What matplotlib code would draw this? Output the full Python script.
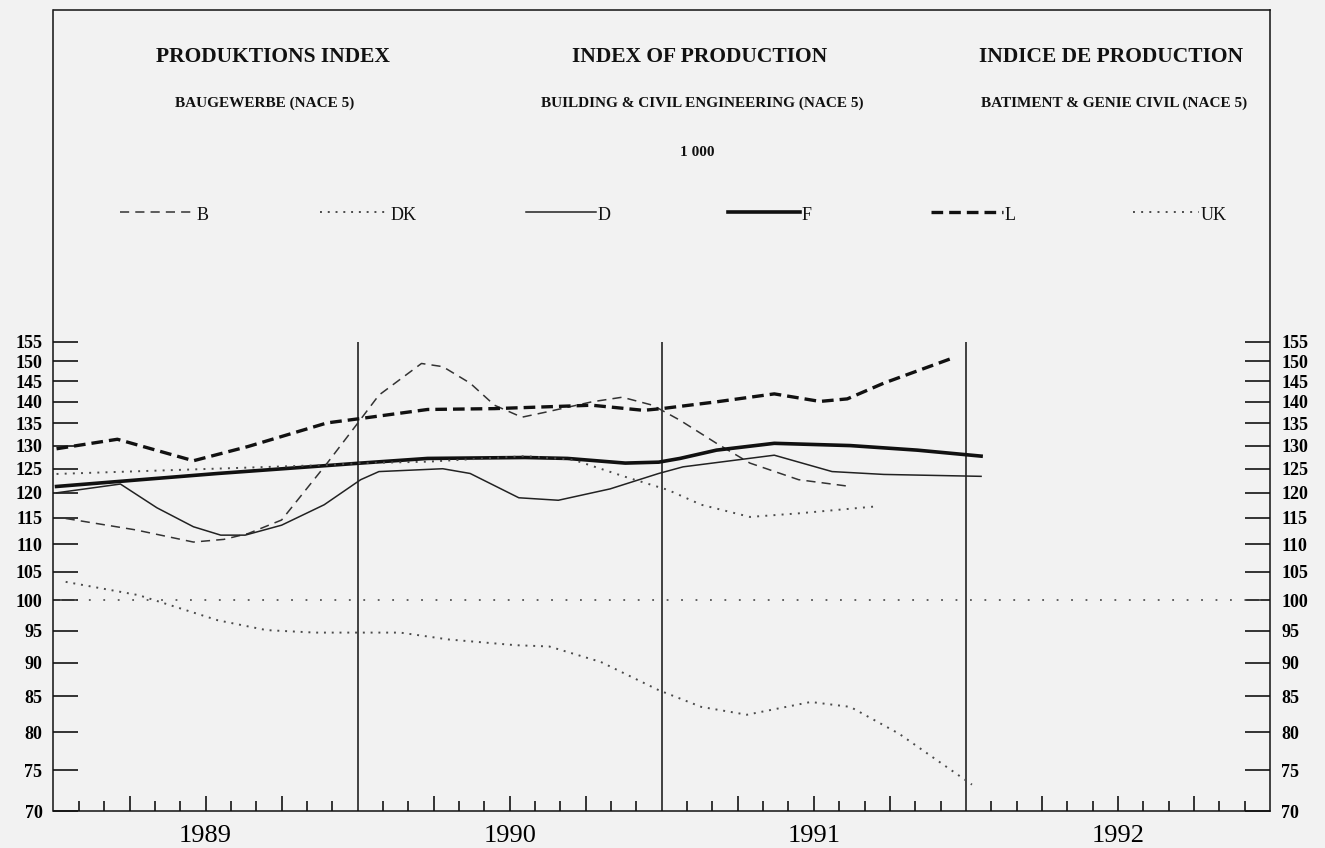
import matplotlib.pyplot as plt
from matplotlib.lines import Line2D
from matplotlib.ticker import FixedLocator, NullLocator, FixedFormatter

# Index of production, building & civil engineering (NACE 5), 1985 = 100
# x values are decimal years
b_x = [1989.04, 1989.27, 1989.46, 1989.56, 1989.64, 1989.75, 1989.90, 1990.00, 1990.07,
       1990.21, 1990.28, 1990.37, 1990.45, 1990.54, 1990.62, 1990.77, 1990.87, 1990.97,
       1991.06, 1991.18, 1991.29, 1991.45, 1991.62]
b_y = [114.9, 112.7, 110.4, 110.9, 112.0, 114.6, 126.2, 135.0, 141.6,
       149.4, 148.6, 144.5, 139.2, 136.4, 137.6, 140.0, 141.1, 139.2,
       135.7, 130.5, 126.2, 122.7, 121.3]

dk_x = [1989.04, 1989.28, 1989.54, 1989.70, 1989.86, 1990.01, 1990.14, 1990.30, 1990.52,
        1990.63, 1990.80, 1990.99, 1991.13, 1991.28, 1991.49, 1991.62, 1991.78, 1991.89,
        1992.02]
dk_y = [103.2, 100.9, 96.7, 95.1, 94.7, 94.7, 94.7, 93.6, 92.7,
        92.5, 90.1, 85.9, 83.5, 82.4, 84.2, 83.5, 79.8, 76.7,
        73.2]

d_x = [1989.01, 1989.22, 1989.34, 1989.46, 1989.55, 1989.63, 1989.75, 1989.89, 1990.01,
       1990.07, 1990.28, 1990.37, 1990.53, 1990.66, 1990.83, 1990.99, 1991.07, 1991.37,
       1991.56, 1991.73, 1992.05]
d_y = [120.0, 121.8, 117.0, 113.3, 111.7, 111.7, 113.6, 117.6, 122.7,
       124.4, 125.0, 124.0, 119.0, 118.5, 120.8, 124.0, 125.4, 127.9,
       124.4, 123.8, 123.4]

f_x = [1989.01, 1989.54, 1990.01, 1990.23, 1990.55, 1990.69, 1990.88, 1990.99, 1991.06,
       1991.18, 1991.37, 1991.62, 1991.84, 1992.05]
f_y = [121.3, 124.0, 126.2, 127.2, 127.4, 127.2, 126.2, 126.4, 127.2,
       129.0, 130.5, 130.0, 129.0, 127.7]

l_x = [1989.01, 1989.21, 1989.46, 1989.64, 1989.90, 1990.01, 1990.23, 1990.45, 1990.77,
       1990.94, 1991.00, 1991.18, 1991.37, 1991.52, 1991.61, 1991.73, 1991.95]
l_y = [129.3, 131.4, 126.7, 129.8, 135.1, 136.1, 138.2, 138.4, 139.2,
       138.0, 138.4, 140.0, 141.9, 140.1, 140.7, 144.5, 150.6]

uk_x = [1989.01, 1989.90, 1990.01, 1990.23, 1990.55, 1990.71, 1990.88, 1991.02, 1991.13,
        1991.29, 1991.45, 1991.71]
uk_y = [123.9, 125.8, 126.2, 126.5, 127.7, 126.9, 123.3, 120.6, 117.6,
        115.2, 115.9, 117.3]

countries = ["B", "DK", "D", "F", "L", "UK"]
years = [1989, 1990, 1991, 1992]
y_ticks = list(range(70, 160, 5))

series = {"B": (b_x, b_y), "DK": (dk_x, dk_y), "D": (d_x, d_y),
          "F": (f_x, f_y), "L": (l_x, l_y), "UK": (uk_x, uk_y)}

styles = {
    "B": dict(color="#333333", linewidth=1.1, linestyle=(0, (6, 4))),
    "DK": dict(color="#4a4a4a", linewidth=1.4, linestyle=(0, (1, 3.0))),
    "D": dict(color="#222222", linewidth=1.1, linestyle="-"),
    "F": dict(color="#111111", linewidth=2.6, linestyle="-"),
    "L": dict(color="#111111", linewidth=2.4, linestyle=(0, (3.5, 1.8))),
    "UK": dict(color="#4a4a4a", linewidth=1.4, linestyle=(0, (1, 3.2))),
}

W, H = 1325, 848
bg = "#f2f2f2"
serif = "Liberation Serif"


def fx(px):
    return px / W


def fy(py):
    return 1 - py / H


fig = plt.figure(figsize=(W / 100, H / 100), dpi=100, facecolor=bg)
ax = fig.add_axes([fx(53.5), fy(811), fx(1270) - fx(53.5), fy(10) - fy(811)])
ax.set_facecolor(bg)

ax.set_yscale("log")
ax.set_xlim(1989, 1993)
ax.set_ylim(70, 271.9)

# reference line at 100 and the year separators
ax.axhline(100, xmin=0.005, xmax=0.993, color="#555555", linewidth=1.3,
           linestyle=(0, (1, 7)))
ax.vlines(years[1:], 70, 155, color="#111111", linewidth=1.1)

for c in countries:
    xs, ys = series[c]
    ax.plot(xs, ys, **styles[c])

# y axis, labelled on both sides
ax.yaxis.set_major_locator(FixedLocator(y_ticks))
ax.yaxis.set_major_formatter(FixedFormatter([str(v) for v in y_ticks]))
ax.yaxis.set_minor_locator(NullLocator())
ax.tick_params(axis="y", which="major", direction="in", length=18, width=1.1,
               left=True, right=True, labelleft=True, labelright=True, pad=8)
for lab in ax.get_yticklabels():
    lab.set_fontfamily(serif)
    lab.set_fontweight("bold")
    lab.set_fontsize(13)

# x axis: monthly ticks, longer at quarters, year label mid-year
quarters = [y + q for y in years for q in (0.25, 0.5, 0.75)]
months = [y + m / 12 for y in years for m in range(1, 12) if m % 3 != 0]
ax.xaxis.set_major_locator(FixedLocator(quarters))
ax.xaxis.set_major_formatter(FixedFormatter(
    [str(int(q)) if abs(q - int(q) - 0.5) < 1e-6 else "" for q in quarters]))
ax.xaxis.set_minor_locator(FixedLocator(months))
ax.tick_params(axis="x", which="major", direction="in", length=11, width=1.1,
               top=False, pad=10)
ax.tick_params(axis="x", which="minor", direction="in", length=7, width=1.1,
               top=False)
for lab in ax.get_xticklabels():
    lab.set_fontfamily(serif)
    lab.set_fontsize(19)

for s in ax.spines.values():
    s.set_linewidth(1.1)
    s.set_color("#111111")

# headings
head_kw = dict(ha="center", va="center", family=serif, color="#111111")
fig.text(fx(273), fy(57), "PRODUKTIONS INDEX", fontsize=15.5, fontweight="bold", **head_kw)
fig.text(fx(700), fy(57), "INDEX OF PRODUCTION", fontsize=15.5, fontweight="bold", **head_kw)
fig.text(fx(1111), fy(57), "INDICE DE PRODUCTION", fontsize=15.5, fontweight="bold", **head_kw)
sub_kw = dict(fontsize=11, fontweight="bold", **head_kw)
fig.text(fx(265), fy(103), "BAUGEWERBE (NACE 5)", **sub_kw)
fig.text(fx(702), fy(103), "BUILDING & CIVIL ENGINEERING (NACE 5)", **sub_kw)
fig.text(fx(1114), fy(103), "BATIMENT & GENIE CIVIL (NACE 5)", **sub_kw)
fig.text(fx(697), fy(152), "1 000", **sub_kw)

# legend row: sample line followed by country code
legend_px = {"B": (120, 195), "DK": (320, 389), "D": (526, 596),
             "F": (728, 800), "L": (931, 1003), "UK": (1133, 1199)}
for c in countries:
    x0, x1 = legend_px[c]
    fig.add_artist(Line2D([fx(x0), fx(x1)], [fy(212), fy(212)],
                          transform=fig.transFigure, **styles[c]))
    fig.text(fx(x1 + 2), fy(216), c, ha="left", va="center", family=serif,
             fontsize=13, color="#111111")

fig.savefig("out.png", dpi=100, facecolor=bg)
